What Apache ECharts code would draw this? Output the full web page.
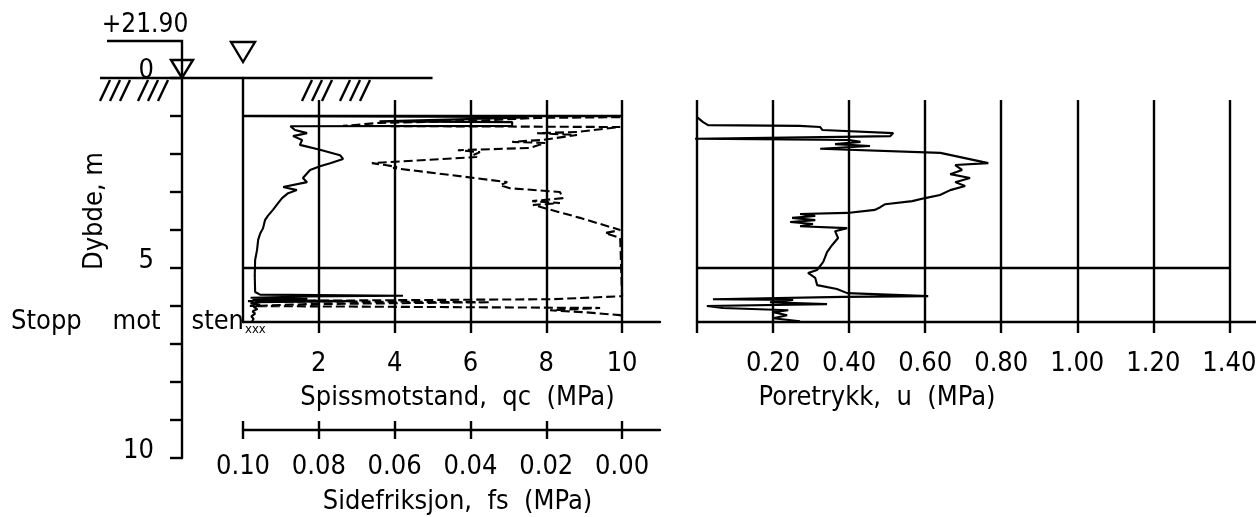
<!DOCTYPE html>
<html>
<head>
<meta charset="utf-8">
<script src="https://cdn.jsdelivr.net/npm/echarts@6/dist/echarts.min.js"></script>
<style>
  html, body { margin: 0; padding: 0; background: #fff; }
  #c { width: 1256px; height: 517px; }
</style>
</head>
<body>
<div id="c"></div>
<script>
// Cone penetration sounding: depth in m below terrain, readings in MPa.

// Cone resistance qc (solid line)
const qcDepth = [1.00, 1.02, 1.04, 1.14, 1.16, 1.26, 1.27, 1.37, 1.45, 1.53, 1.63, 1.76, 1.89,
  2.03, 2.13, 2.24, 2.32, 2.42, 2.63, 2.74, 2.87, 2.95, 3.03, 3.16, 3.30, 3.47, 3.62, 3.74, 3.95,
  4.10, 4.26, 4.53, 4.79, 5.20, 5.63, 5.70, 5.73, 5.75, 5.78, 5.81, 5.84, 5.87, 5.90, 5.93, 5.97,
  6.03, 6.08, 6.14, 6.20, 6.27, 6.34, 6.40];
const qcValue = [0.00, 5.60, 7.50, 3.60, 7.10, 7.10, 1.25, 1.37, 1.69, 1.32, 1.56, 1.50, 2.03,
  2.56, 2.64, 2.30, 2.03, 1.77, 1.58, 1.69, 1.06, 1.42, 1.19, 1.03, 0.92, 0.79, 0.66, 0.58, 0.53,
  0.45, 0.40, 0.37, 0.32, 0.31, 0.32, 0.45, 4.22, 1.60, 0.20, 1.70, 0.25, 2.80, 0.30, 0.20, 0.45,
  0.28, 0.38, 0.25, 0.32, 0.22, 0.28, 0.24];

// Sleeve friction fs (dashed line, reversed scale)
const fsDepth = [1.03, 1.05, 1.13, 1.18, 1.26, 1.29, 1.42, 1.45, 1.50, 1.63, 1.68, 1.71, 1.84,
  1.90, 1.95, 2.03, 2.08, 2.24, 2.29, 2.34, 2.37, 2.55, 2.74, 2.82, 2.90, 3.00, 3.16, 3.24, 3.29,
  3.34, 3.68, 4.00, 4.08, 4.21, 4.26, 5.74, 5.82, 5.87, 5.90, 5.95, 6.00, 6.05, 6.11, 6.16, 6.24, 6.32];
const fsValue = [0.0005, 0.0224, 0.0401, 0.0639, 0.0736, 0.0005, 0.0119, 0.0224, 0.0119, 0.0211,
  0.0290, 0.0203, 0.0243, 0.0433, 0.0375, 0.0393, 0.0383, 0.0660, 0.0625, 0.0594, 0.0604, 0.0454,
  0.0303, 0.0322, 0.0296, 0.0164, 0.0156, 0.0237, 0.0164, 0.0235, 0.0111, 0.0005, 0.0045, 0.0005,
  0.0000, 0.0000, 0.0182, 0.0987, 0.0348, 0.0831, 0.0982, 0.0058, 0.0190, 0.0103, 0.0005, 0.0000];

// Pore pressure u
const uDepth = [1.03, 1.16, 1.24, 1.26, 1.29, 1.37, 1.45, 1.53, 1.55, 1.60, 1.63, 1.68, 1.74,
  1.79, 1.86, 1.97, 2.24, 2.29, 2.42, 2.53, 2.63, 2.74, 2.84, 2.95, 3.08, 3.16, 3.24, 3.32, 3.40,
  3.47, 3.55, 3.58, 3.63, 3.68, 3.74, 3.79, 3.84, 3.90, 3.95, 4.03, 4.21, 4.40, 4.58, 4.84, 5.05,
  5.13, 5.26, 5.45, 5.55, 5.66, 5.74, 5.76, 5.82, 5.84, 5.90, 5.95, 6.00, 6.05, 6.11, 6.16, 6.24,
  6.32, 6.40];
const uValue = [0.000, 0.016, 0.029, 0.270, 0.324, 0.330, 0.516, 0.508, 0.376, -0.005, 0.400,
  0.430, 0.363, 0.455, 0.324, 0.640, 0.766, 0.679, 0.697, 0.666, 0.718, 0.679, 0.705, 0.666,
  0.639, 0.600, 0.566, 0.495, 0.482, 0.468, 0.395, 0.271, 0.311, 0.250, 0.311, 0.245, 0.305,
  0.271, 0.395, 0.363, 0.371, 0.355, 0.342, 0.332, 0.316, 0.292, 0.311, 0.316, 0.368, 0.395,
  0.608, 0.384, 0.042, 0.253, 0.192, 0.342, 0.026, 0.068, 0.240, 0.200, 0.237, 0.200, 0.271];

// Scales and tick labels
const depthLabels = [0, 5, 10];
const qcTicks = [2, 4, 6, 8, 10];
const fsTicks = [0.10, 0.08, 0.06, 0.04, 0.02, 0.00];
const uTicks = [0.20, 0.40, 0.60, 0.80, 1.00, 1.20, 1.40];
const refDepths = [1, 5];          // horizontal reference lines in the qc panel
const uRefDepths = [5];            // horizontal reference lines in the u panel
const gridTopDepth = 0.58;         // vertical grid lines start here
const bottomDepth = 6.42;          // sounding stopped here
const terrainLevel = '+21.90';

const FONT = '"DejaVu Sans Condensed", "DejaVu Sans", sans-serif';
const FS = 27;
const BLACK = '#000';
const txt = { fontFamily: FONT, fontSize: FS, color: BLACK };
const LW = 2.4;
const axisLineStyle = { color: BLACK, width: LW };

const pairs = (vals, deps) => vals.map((v, i) => [v, deps[i]]);

const gridLineStyle = { color: BLACK, width: LW, type: 'solid' };
function markLines(data) {
  return {
    silent: true, symbol: ['none', 'none'], label: { show: false },
    lineStyle: gridLineStyle, emphasis: { disabled: true }, animation: false, data
  };
}

const qcGrid = qcTicks.map(v => [{ coord: [v, gridTopDepth] }, { coord: [v, bottomDepth] }])
  .concat(refDepths.map(d => [{ coord: [0, d] }, { coord: [10, d] }]));
const uGrid = [0].concat(uTicks).map(v => [{ coord: [v, gridTopDepth] }, { coord: [v, bottomDepth] }])
  .concat(uRefDepths.map(d => [{ coord: [0, d] }, { coord: [uTicks[uTicks.length - 1], d] }]));

const chart = echarts.init(document.getElementById('c'));

const option = {
  animation: false,
  backgroundColor: '#fff',
  grid: [
    { left: 182, top: 78, width: 1, height: 380, outerBoundsMode: 'none' },
    { left: 243, top: 78, width: 417, height: 244, outerBoundsMode: 'none' },
    { left: 697, top: 78, width: 559, height: 244, outerBoundsMode: 'none' }
  ],
  xAxis: [
    { gridIndex: 0, type: 'value', min: 0, max: 1, show: false },
    {
      gridIndex: 1, type: 'value', min: 0, max: 11, position: 'bottom',
      name: 'Spissmotstand,  qc  (MPa)', nameLocation: 'middle', nameGap: 62,
      nameTextStyle: Object.assign({}, txt, { padding: [0, 0, 0, 12] }),
      axisLine: { show: true, onZero: false, lineStyle: axisLineStyle },
      axisTick: { show: true, length: 11, customValues: qcTicks, lineStyle: axisLineStyle },
      axisLabel: Object.assign({ customValues: qcTicks, margin: 28 }, txt),
      splitLine: { show: false }
    },
    {
      gridIndex: 1, type: 'value', min: -0.01, max: 0.10, inverse: true, position: 'bottom', offset: 108,
      name: 'Sidefriksjon,  fs  (MPa)', nameLocation: 'middle', nameGap: 58,
      nameTextStyle: Object.assign({}, txt, { padding: [0, 0, 0, 12] }),
      axisLine: { show: true, onZero: false, lineStyle: axisLineStyle },
      axisTick: { show: true, length: 9, customValues: fsTicks, lineStyle: axisLineStyle },
      axisLabel: Object.assign({ customValues: fsTicks, margin: 23, formatter: v => v.toFixed(2) }, txt),
      splitLine: { show: false }
    },
    {
      gridIndex: 1, type: 'value', min: -0.01, max: 0.10, inverse: true, position: 'bottom', offset: 108,
      axisLine: { show: false, onZero: false },
      axisTick: { show: true, inside: true, length: 9, customValues: fsTicks, lineStyle: axisLineStyle },
      axisLabel: { show: false },
      splitLine: { show: false }
    },
    {
      gridIndex: 2, type: 'value', min: 0, max: 1.47, position: 'bottom',
      name: 'Poretrykk,  u  (MPa)', nameLocation: 'middle', nameGap: 62,
      nameTextStyle: Object.assign({}, txt, { padding: [0, 199, 0, 0] }),
      axisLine: { show: true, onZero: false, lineStyle: axisLineStyle },
      axisTick: { show: true, length: 11, customValues: [0].concat(uTicks), lineStyle: axisLineStyle },
      axisLabel: Object.assign({ customValues: uTicks, margin: 28, formatter: v => v.toFixed(2) }, txt),
      splitLine: { show: false }
    }
  ],
  yAxis: [
    {
      gridIndex: 0, type: 'value', inverse: true, min: 0, max: 10, interval: 1,
      axisLine: { show: true, onZero: false, lineStyle: axisLineStyle },
      axisTick: { show: true, length: 12, lineStyle: axisLineStyle },
      axisLabel: Object.assign({ customValues: depthLabels, margin: 28, verticalAlign: 'bottom', lineHeight: 15 }, txt),
      splitLine: { show: false }
    },
    {
      gridIndex: 1, type: 'value', inverse: true, min: 0, max: bottomDepth,
      axisLine: { show: true, onZero: false, lineStyle: axisLineStyle },
      axisTick: { show: false }, axisLabel: { show: false }, splitLine: { show: false }
    },
    { gridIndex: 2, type: 'value', inverse: true, min: 0, max: bottomDepth, show: false }
  ],
  series: [
    {
      name: 'qc', type: 'line', xAxisIndex: 1, yAxisIndex: 1, data: pairs(qcValue, qcDepth),
      symbol: 'none', lineStyle: { color: BLACK, width: 2.1 }, z: 3,
      markLine: markLines(qcGrid)
    },
    {
      name: 'fs', type: 'line', xAxisIndex: 2, yAxisIndex: 1, data: pairs(fsValue, fsDepth),
      symbol: 'none', lineStyle: { color: BLACK, width: 2.1, type: [9, 4] }, z: 3
    },
    {
      name: 'u', type: 'line', xAxisIndex: 4, yAxisIndex: 2, data: pairs(uValue, uDepth),
      symbol: 'none', lineStyle: { color: BLACK, width: 2.1 }, z: 3,
      markLine: markLines(uGrid)
    }
  ]
};

chart.setOption(option);

// Terrain symbols, level marks and notes placed from the axis scales
function decorate() {
  const dX = chart.convertToPixel({ xAxisIndex: 0 }, 0);
  const dY = v => chart.convertToPixel({ yAxisIndex: 0 }, v);
  const qX = v => chart.convertToPixel({ xAxisIndex: 1 }, v);
  const g0 = dY(0);
  const q0 = qX(0);
  const font = px => px + 'px ' + FONT;
  const stroke = { stroke: BLACK, lineWidth: LW };
  const els = [];

  // terrain surface
  els.push({ type: 'line', shape: { x1: dX - 82, y1: g0, x2: qX(5), y2: g0 }, style: stroke });
  // hatching below the surface
  [-82, -72, -62, -44, -34, -24].forEach(o => els.push({
    type: 'line', shape: { x1: dX + o, y1: g0 + 23, x2: dX + o + 10, y2: g0 + 2 }, style: stroke
  }));
  [59, 69, 79, 97, 107, 117].forEach(o => els.push({
    type: 'line', shape: { x1: q0 + o, y1: g0 + 23, x2: q0 + o + 10, y2: g0 + 2 }, style: stroke
  }));
  // terrain level marker with leader
  els.push({ type: 'polyline', shape: { points: [[dX - 75, g0 - 37], [dX, g0 - 37], [dX, g0]] }, style: stroke });
  els.push({ type: 'polygon', shape: { points: [[dX, g0], [dX - 11, g0 - 18], [dX + 11, g0 - 18]] },
    style: { fill: 'none', stroke: BLACK, lineWidth: LW } });
  els.push({ type: 'text', style: { text: terrainLevel, x: dX - 37, y: g0 - 40, font: font(FS - 1),
    textAlign: 'center', textVerticalAlign: 'bottom', fill: BLACK } });
  // groundwater marker
  els.push({ type: 'polygon', shape: { points: [[q0, g0 - 16], [q0 - 12, g0 - 36], [q0 + 12, g0 - 36]] },
    style: { fill: 'none', stroke: BLACK, lineWidth: LW } });
  // depth axis title
  els.push({ type: 'text', x: dX - 87, y: dY(3.5), rotation: Math.PI / 2,
    style: { text: 'Dybde, m', x: 0, y: 0, font: font(FS), textAlign: 'center',
      textVerticalAlign: 'middle', fill: BLACK } });
  // stop note
  els.push({ type: 'text', style: { text: 'Stopp    mot    sten', x: q0 + 1, y: dY(bottomDepth),
    font: font(FS), textAlign: 'right', textVerticalAlign: 'middle', fill: BLACK } });
  els.push({ type: 'text', style: { text: 'xxx', x: q0 + 2, y: dY(bottomDepth) + 1,
    font: font(13), textAlign: 'left', textVerticalAlign: 'top', fill: BLACK } });

  chart.setOption({ graphic: els });
}
decorate();
</script>
</body>
</html>
